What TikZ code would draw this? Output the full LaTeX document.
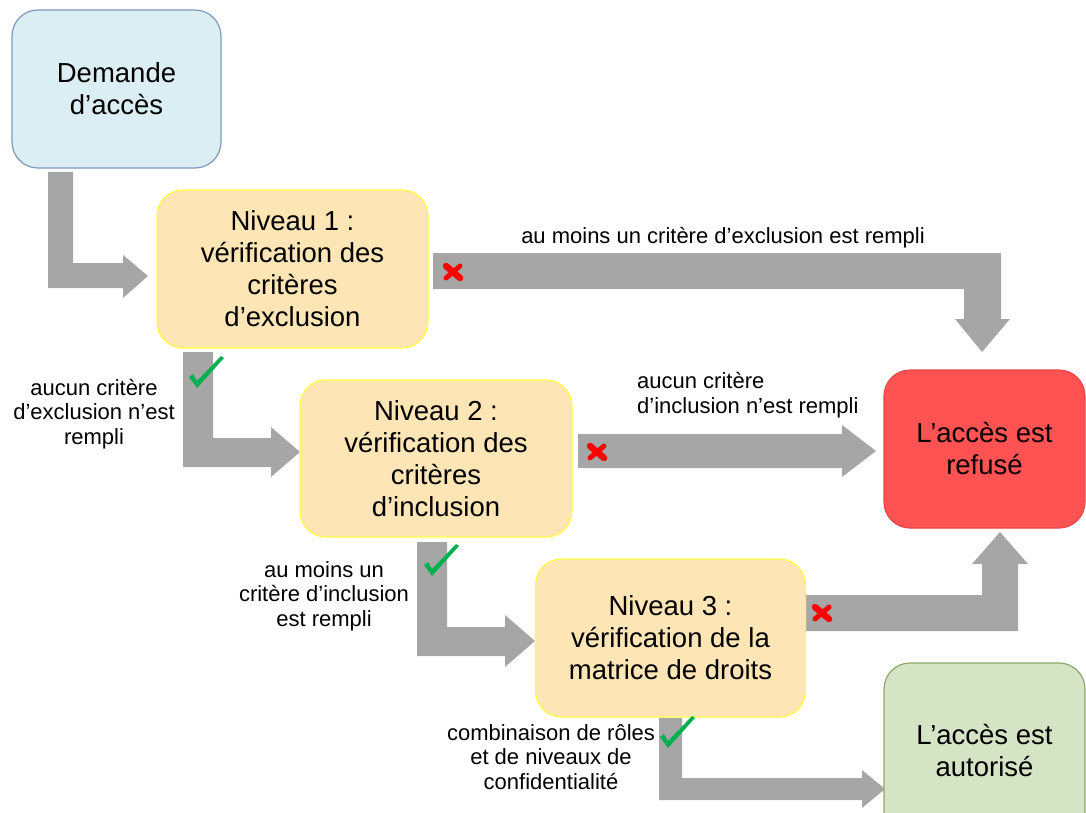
\documentclass[tikz,border=0pt]{standalone}
\usepackage{fontspec}
\setmainfont{Liberation Sans}
\definecolor{arrowgray}{HTML}{A6A6A6}
\definecolor{demfill}{HTML}{DBEEF3}
\definecolor{demdraw}{HTML}{7F98C2}
\definecolor{lvlfill}{HTML}{FDE5B6}
\definecolor{lvldraw}{HTML}{FFFF40}
\definecolor{reffill}{HTML}{FF5252}
\definecolor{refdraw}{HTML}{E84848}
\definecolor{autfill}{HTML}{D5E4C4}
\definecolor{autdraw}{HTML}{8CA868}
\definecolor{chkgreen}{HTML}{00B050}
\definecolor{xred}{HTML}{FF0000}
\begin{document}
\begin{tikzpicture}[x=1pt,y=-1pt,
  box/.style={draw, line width=1.2pt, rounded corners=26pt, inner sep=0pt,
    align=center, font=\fontsize{27.5}{32}\selectfont, text=black},
  lbl/.style={inner sep=0pt, font=\fontsize{22}{24.5}\selectfont, text=black},
  blockarrow/.style={fill=arrowgray},
  chk/.pic={\fill[chkgreen] (0,1) -- (-8,-10) -- (-4,-13) -- (0,-6) -- (24,-31) -- (27,-29) -- cycle;},
  xmk/.pic={\draw[xred, line width=6.5pt, line cap=round] (-7,-6) -- (7,6);
            \draw[xred, line width=5pt, line cap=round] (7,-6) -- (-7,6);}
]
\useasboundingbox (0,0) rectangle (1086,813);

% block arrows
\fill[blockarrow] (48,172) -- (73,172) -- (73,263) -- (123,263) -- (123,255) -- (148,276)
  -- (123,298) -- (123,288) -- (48,288) -- cycle;
\fill[blockarrow] (433,253) -- (1001,253) -- (1001,319) -- (1010,319) -- (982,352)
  -- (955,319) -- (964,319) -- (964,289) -- (433,289) -- cycle;
\fill[blockarrow] (183,352) -- (213,352) -- (213,438) -- (271,438) -- (271,427) -- (300,452)
  -- (271,477) -- (271,467) -- (183,467) -- cycle;
\fill[blockarrow] (578,434) -- (842,434) -- (842,425) -- (876,451) -- (842,477)
  -- (842,468) -- (578,468) -- cycle;
\fill[blockarrow] (417,542) -- (447,542) -- (447,627) -- (505,627) -- (505,615) -- (535,641)
  -- (505,667) -- (505,656) -- (417,656) -- cycle;
\fill[blockarrow] (803,595) -- (982,595) -- (982,564) -- (972,564) -- (1000,532)
  -- (1028,564) -- (1018,564) -- (1018,631) -- (803,631) -- cycle;
\fill[blockarrow] (659,718) -- (682,718) -- (682,778) -- (862,778) -- (862,770) -- (885,789)
  -- (862,808) -- (862,800) -- (659,800) -- cycle;

% boxes
\node[box, fill=demfill, draw=demdraw, minimum width=209pt, minimum height=158pt]
  (dem) at (116.5,89) {Demande\\d’accès};
\node[box, fill=lvlfill, draw=lvldraw, minimum width=271pt, minimum height=158pt]
  (n1) at (292.5,269) {Niveau 1 :\\vérification des\\critères\\d’exclusion};
\node[box, fill=lvlfill, draw=lvldraw, minimum width=272pt, minimum height=157pt]
  (n2) at (436,458.5) {Niveau 2 :\\vérification des\\critères\\d’inclusion};
\node[box, fill=lvlfill, draw=lvldraw, minimum width=270pt, minimum height=158pt]
  (n3) at (670.5,638) {Niveau 3 :\\vérification de la\\matrice de droits};
\node[box, fill=reffill, draw=refdraw, minimum width=201pt, minimum height=158pt]
  (ref) at (984.5,449) {L’accès est\\refusé};
\node[box, fill=autfill, draw=autdraw, minimum width=201pt, minimum height=176pt]
  (aut) at (984.5,751) {L’accès est\\autorisé};

% marks
\pic at (197,387) {chk};
\pic at (432,575) {chk};
\pic at (668,747) {chk};
\pic at (453,272) {xmk};
\pic at (597,452) {xmk};
\pic at (822,613) {xmk};

% labels
\node[lbl, anchor=base] (l1) at (723,243) {au moins un critère d’exclusion est rempli};
\node[lbl, align=center] (l2) at (94,414) {aucun critère\\d’exclusion n’est\\rempli};
\node[lbl, align=left, anchor=west] (l3) at (637,395) {aucun critère\\d’inclusion n’est rempli};
\node[lbl, align=center] (l4) at (324,596) {au moins un\\critère d’inclusion\\est rempli};
\node[lbl, align=center] (l5) at (551,757) {combinaison de rôles\\et de niveaux de\\confidentialité};
\end{tikzpicture}
\end{document}
